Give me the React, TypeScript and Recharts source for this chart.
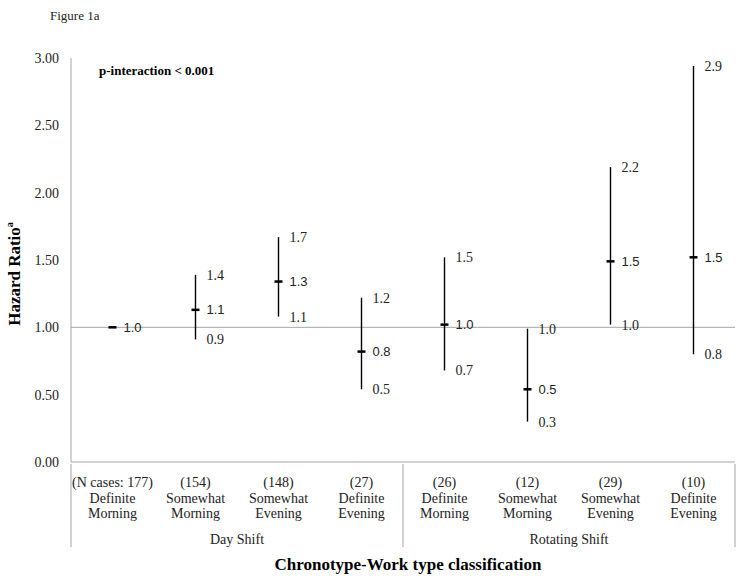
import { ComposedChart, Line, XAxis, YAxis, ReferenceLine, ErrorBar, LabelList } from "recharts";

// category labels (3 rows per tick) and shift groups
const caseCounts = ["(N cases: 177)", "(154)", "(148)", "(27)", "(26)", "(12)", "(29)", "(10)"];
const chronoFirst = ["Definite", "Somewhat", "Somewhat", "Definite", "Definite", "Somewhat", "Somewhat", "Definite"];
const chronoSecond = ["Morning", "Morning", "Evening", "Evening", "Morning", "Morning", "Evening", "Evening"];
const shiftGroups = [
  "Day Shift", "Day Shift", "Day Shift", "Day Shift",
  "Rotating Shift", "Rotating Shift", "Rotating Shift", "Rotating Shift",
];

// hazard ratios with 95% CI (reference category has no CI)
const hazardRatio = [1.0, 1.13, 1.34, 0.82, 1.02, 0.54, 1.49, 1.52];
const ciLower: (number | null)[] = [null, 0.91, 1.08, 0.54, 0.68, 0.3, 1.02, 0.8];
const ciUpper: (number | null)[] = [null, 1.39, 1.67, 1.22, 1.52, 0.99, 2.19, 2.94];

const yTicks = [0, 0.5, 1, 1.5, 2, 2.5, 3];

const rows = hazardRatio.map((hr, i) => {
  const lo = ciLower[i];
  const hi = ciUpper[i];
  return {
    key: `c${i}`,
    group: shiftGroups[i],
    hr,
    lo,
    hi,
    err: lo == null || hi == null ? [0, 0] : [hr - lo, hi - hr],
  };
});

const W = 749;
const H = 584;
const MARGIN = { top: 58, right: 14, bottom: 36, left: 0 };
const Y_AXIS_W = 71;
const BAND = (W - Y_AXIS_W - MARGIN.right) / rows.length;
const HALF_BAND = BAND / 2;

const SERIF = "'Liberation Serif', 'Times New Roman', serif";
const SANS = "'Liberation Sans', Arial, sans-serif";
const AXIS_GRAY = "#a6a6a6";
const TEXT = "#222";

const fmt1 = (v: unknown) => (v == null || v === "" ? "" : Number(v).toFixed(1));

function CategoryTick(props: any) {
  const { x, y, payload } = props;
  const i = rows.findIndex((r) => r.key === payload.value);
  const sep: number[] = [];
  if (i === 0 || i === 4) sep.push(x - HALF_BAND);
  if (i === rows.length - 1) sep.push(x + HALF_BAND);
  // group label centred under its run of categories
  const groupStart = i === 0 || shiftGroups[i] !== shiftGroups[i - 1];
  let groupLen = 0;
  if (groupStart) {
    while (shiftGroups[i + groupLen] === shiftGroups[i]) groupLen++;
  }
  const gx = x + ((groupLen - 1) * BAND) / 2;
  return (
    <g>
      {sep.map((sx) => (
        <line key={sx} x1={sx} x2={sx} y1={y} y2={y + 83} stroke={AXIS_GRAY} strokeWidth={1} />
      ))}
      <text x={x} y={y} textAnchor="middle" fontFamily={SERIF} fontSize={14} fill={TEXT}>
        <tspan x={x} dy={23}>{caseCounts[i]}</tspan>
        <tspan x={x} dy={15.5}>{chronoFirst[i]}</tspan>
        <tspan x={x} dy={15.5}>{chronoSecond[i]}</tspan>
      </text>
      {groupStart && (
        <text x={gx} y={y + 80} textAnchor="middle" fontFamily={SERIF} fontSize={14} fill={TEXT}>
          {shiftGroups[i]}
        </text>
      )}
    </g>
  );
}

function PointMark(props: any) {
  const { cx, cy, index } = props;
  if (cx == null || cy == null) return <g key={`m${index}`} />;
  return <rect key={`m${index}`} x={cx - 4} y={cy - 1.25} width={8} height={2.5} fill="#000" />;
}

function YTitle() {
  const cy = 274;
  const x = 20;
  return (
    <text
      x={x}
      y={cy}
      transform={`rotate(-90, ${x}, ${cy})`}
      textAnchor="middle"
      fontFamily={SERIF}
      fontSize={17}
      fontWeight="bold"
      fill="#000"
    >
      Hazard Ratio
      <tspan fontSize={10} dy={-7}>a</tspan>
    </text>
  );
}

export default function App() {
  return (
    <div style={{ position: "absolute", left: 0, top: 0, width: W, height: H, background: "#fff" }}>
      <div
        style={{
          position: "absolute", left: 50, top: 8, fontFamily: SERIF, fontSize: 13,
          lineHeight: "16px", color: TEXT,
        }}
      >
        Figure 1a
      </div>
      <div
        style={{
          position: "absolute", left: 99, top: 63, fontFamily: SERIF, fontSize: 13,
          fontWeight: "bold", lineHeight: "16px", color: "#000", zIndex: 2,
        }}
      >
        p-interaction &lt; 0.001
      </div>
      <div
        style={{
          position: "absolute", left: 208, width: 400, top: 556, textAlign: "center",
          fontFamily: SERIF, fontSize: 17, fontWeight: "bold", lineHeight: "18px", color: "#000",
        }}
      >
        Chronotype-Work type classification
      </div>
      <ComposedChart width={W} height={H} data={rows} margin={MARGIN}>
        <XAxis
          dataKey="key"
          type="category"
          scale="band"
          height={86}
          tickSize={0}
          tickLine={false}
          axisLine={{ stroke: AXIS_GRAY }}
          tick={<CategoryTick />}
          interval={0}
        />
        <YAxis
          width={Y_AXIS_W}
          domain={[0, 3]}
          ticks={yTicks}
          tickFormatter={(v: number) => v.toFixed(2)}
          tickSize={0}
          tickMargin={12}
          tickLine={false}
          axisLine={{ stroke: AXIS_GRAY }}
          tick={{ fontFamily: SERIF, fontSize: 14, fill: TEXT }}
          label={<YTitle />}
        />
        <ReferenceLine y={1} stroke={AXIS_GRAY} strokeWidth={1} />

        {/* upper CI labels */}
        <Line dataKey="hi" stroke="none" dot={false} activeDot={false} legendType="none" isAnimationActive={false}>
          <LabelList dataKey="hi" position="right" offset={11} formatter={fmt1} fontFamily={SERIF} fontSize={14} fill={TEXT} />
        </Line>
        {/* lower CI labels */}
        <Line dataKey="lo" stroke="none" dot={false} activeDot={false} legendType="none" isAnimationActive={false}>
          <LabelList dataKey="lo" position="right" offset={11} formatter={fmt1} fontFamily={SERIF} fontSize={14} fill={TEXT} />
        </Line>
        {/* point estimate with CI */}
        <Line
          dataKey="hr"
          stroke="none"
          dot={<PointMark />}
          activeDot={false}
          legendType="none"
          isAnimationActive={false}
        >
          <ErrorBar dataKey="err" direction="y" width={0} stroke="#000" strokeWidth={1.4} />
          <LabelList dataKey="hr" position="right" offset={11} formatter={fmt1} fontFamily={SANS} fontSize={13} fill={TEXT} />
        </Line>
      </ComposedChart>
    </div>
  );
}
